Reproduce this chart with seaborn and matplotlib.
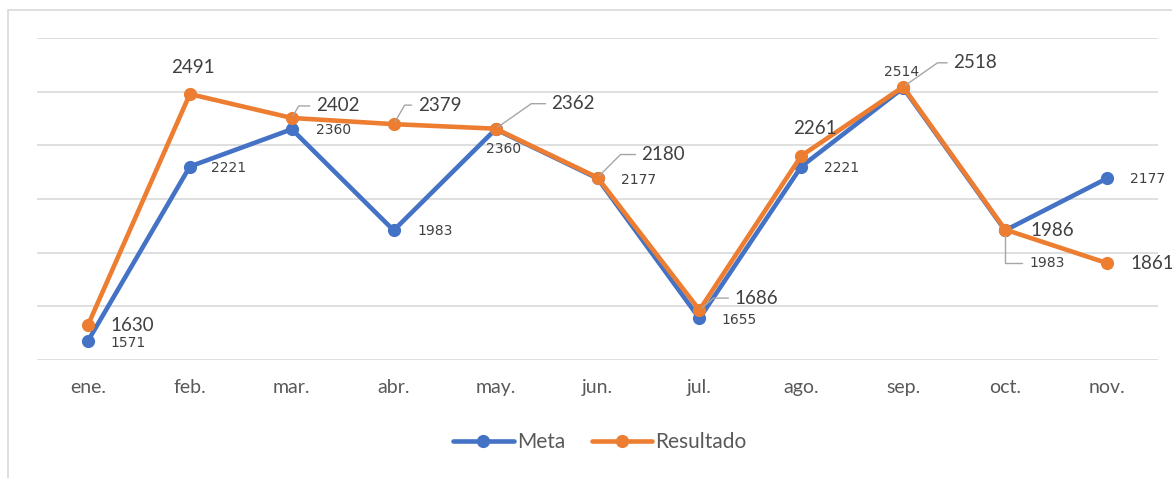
import matplotlib
matplotlib.use("Agg")
import matplotlib.pyplot as plt
import seaborn as sns
import pandas as pd
from matplotlib.patches import Rectangle

meses = ["ene.", "feb.", "mar.", "abr.", "may.", "jun.", "jul.", "ago.", "sep.", "oct.", "nov."]
meta = [1571, 2221, 2360, 1983, 2360, 2177, 1655, 2221, 2514, 1983, 2177]
resultado = [1630, 2491, 2402, 2379, 2362, 2180, 1686, 2261, 2518, 1986, 1861]

df = pd.DataFrame({
    "mes": meses * 2,
    "valor": meta + resultado,
    "serie": ["Meta"] * len(meses) + ["Resultado"] * len(meses),
})

sns.set_theme(style="white")
plt.rcParams["font.family"] = ["Lato", "DejaVu Sans"]

BLUE = "#4472C4"
ORANGE = "#ED7D31"

fig = plt.figure(figsize=(11.72, 4.78), dpi=100)
ax = fig.add_axes([37 / 1172, 1 - 360 / 478, (1158 - 37) / 1172, (360 - 38) / 478])

sns.lineplot(data=df, x="mes", y="valor", hue="serie", palette=[BLUE, ORANGE],
             marker="o", markersize=9.5, markeredgewidth=0, linewidth=3.3, ax=ax,
             sort=False)

ax.set_xlim(-0.5, 10.5)
ax.set_ylim(1500, 2700)
ax.set_yticks(range(1500, 2701, 200))
ax.set_yticklabels([])
ax.tick_params(axis="y", length=0)
ax.tick_params(axis="x", length=0, pad=14, labelsize=14, labelcolor="#595959")
ax.grid(axis="y", color="#D9D9D9", linewidth=1.2)
ax.set_axisbelow(True)
for s in ax.spines.values():
    s.set_visible(False)
ax.set_xlabel("")
ax.set_ylabel("")

# Resultado labels: (dx, dy) in pixels, leader angle or None
res_pos = [
    (22, 0, None), (3, 27, "c"), (24, 12, 60), (24, 19, 60), (56, 25, 35),
    (44, 23, 45), (35, 12, 40), (14, 27, "c"), (50, 24, 35), (25, -1, None), (23, 0, None),
]
for i, (v, (dx, dy, lead)) in enumerate(zip(resultado, res_pos)):
    if lead == "c":
        ax.annotate(str(v), (i, v), xytext=(dx, dy), textcoords="offset pixels",
                    ha="center", va="center", fontsize=13.5, color="#404040")
    elif lead is None:
        ax.annotate(str(v), (i, v), xytext=(dx, dy), textcoords="offset pixels",
                    ha="left", va="center", fontsize=13.5, color="#404040")
    else:
        ax.annotate(str(v), (i, v), xytext=(dx, dy), textcoords="offset pixels",
                    ha="left", va="center", fontsize=13.5, color="#404040",
                    arrowprops=dict(arrowstyle="-", color="#A6A6A6", lw=1,
                                    shrinkA=2, shrinkB=2, relpos=(0, 0.5),
                                    connectionstyle=f"angle,angleA=0,angleB={lead},rad=0"))

# Meta labels
meta_pos = [
    (22, -2, "l"), (21, -1, "l"), (24, -1, "l"), (24, -1, "l"), (8, -20, "c"),
    (23, -2, "l"), (22, -2, "l"), (23, -1, "l"), (-2, 16, "c"), (24, -33, "lead"), (23, -1, "l"),
]
for i, (v, (dx, dy, kind)) in enumerate(zip(meta, meta_pos)):
    if kind == "l":
        ax.annotate(str(v), (i, v), xytext=(dx, dy), textcoords="offset pixels",
                    ha="left", va="center", fontsize=10, color="#404040",
                    family="DejaVu Sans")
    elif kind == "c":
        ax.annotate(str(v), (i, v), xytext=(dx, dy), textcoords="offset pixels",
                    ha="center", va="center", fontsize=10, color="#404040",
                    family="DejaVu Sans")
    else:
        ax.annotate(str(v), (i, v), xytext=(dx, dy), textcoords="offset pixels",
                    ha="left", va="center", fontsize=10, color="#404040",
                    family="DejaVu Sans",
                    arrowprops=dict(arrowstyle="-", color="#A6A6A6", lw=1,
                                    shrinkA=3, shrinkB=3, relpos=(0, 0.5),
                                    connectionstyle="angle,angleA=0,angleB=90,rad=0"))

handles, labels = ax.get_legend_handles_labels()
ax.legend(handles, labels, loc="center", bbox_to_anchor=(600 / 1172, 1 - 442 / 478),
          bbox_transform=fig.transFigure, ncol=2, frameon=False, fontsize=15,
          handlelength=2.9, columnspacing=1.3, handletextpad=0.15,
          labelcolor="#595959")

fig.patches.append(Rectangle((8 / 1172, -0.1), 1.0, 1 - 10 / 478 + 0.1,
                             transform=fig.transFigure, fill=False,
                             edgecolor="#D9D9D9", linewidth=1.2))

fig.savefig("out.png", dpi=100)
